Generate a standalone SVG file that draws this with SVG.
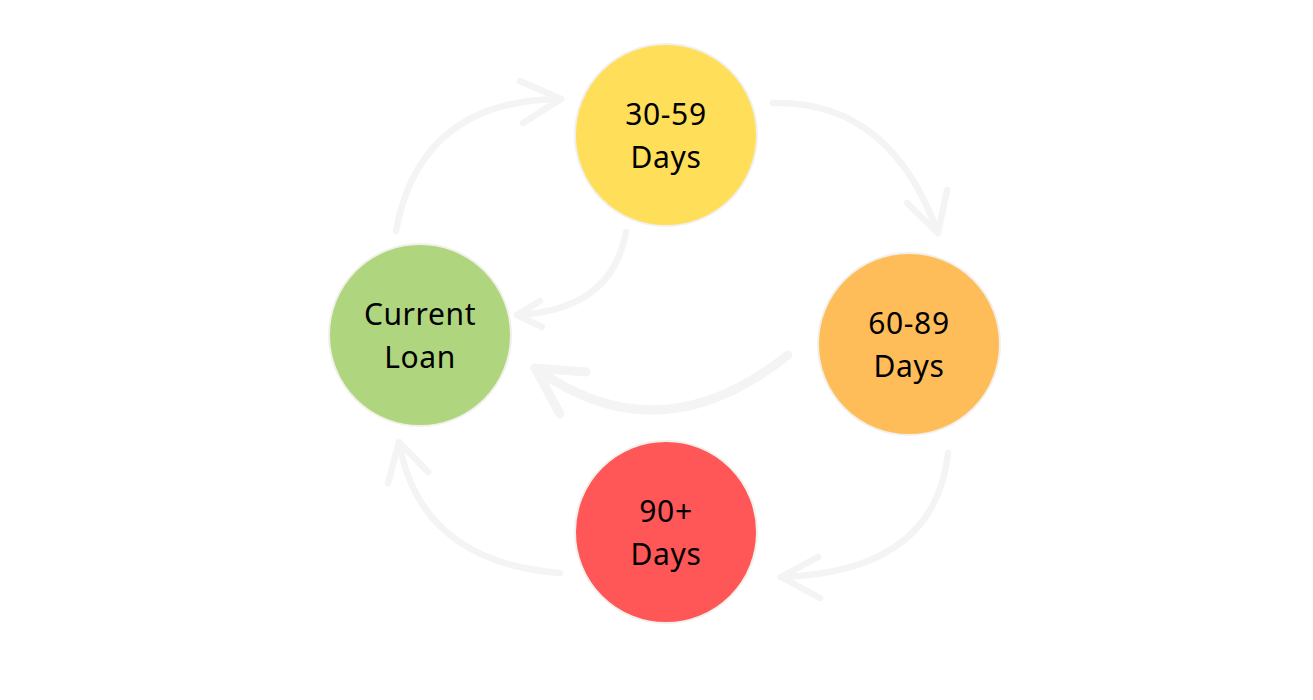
<svg xmlns="http://www.w3.org/2000/svg" width="1313" height="700" viewBox="0 0 1313 700">
<style>
.bg{fill:#ffffff}
.node{stroke:#f1f0ea;stroke-width:2}
.lbl{font-family:"Noto Sans","Open Sans",sans-serif;font-size:30px;fill:#000000;text-anchor:middle;letter-spacing:0.6px}
.arc{fill:none;stroke:#f4f4f4;stroke-width:6.5;stroke-linecap:round;stroke-linejoin:round}
.thick{stroke-width:9}
</style>
<rect class="bg" x="0" y="0" width="1313" height="700"/>
<g id="connectors">
  <g id="c-current-30">
    <path class="arc" d="M396,231 Q420,100 561,99"/>
    <path class="arc" d="M520,81 L561,99 L523,123"/>
  </g>
  <g id="c-30-current">
    <path class="arc" d="M626,232 Q612,310 517,315"/>
    <path class="arc" d="M540,301 L517,315 L542,327"/>
  </g>
  <g id="c-30-60">
    <path class="arc" d="M773,103 Q890,100 938,233"/>
    <path class="arc" d="M907,203 L938,233 L947,190"/>
  </g>
  <g id="c-60-current">
    <path class="arc thick" d="M788,355 Q659,458 535,368"/>
    <path class="arc thick" d="M586,372 L535,368 L560,414"/>
  </g>
  <g id="c-60-90">
    <path class="arc" d="M948,453 Q935,572 781,577"/>
    <path class="arc" d="M818,557 L781,577 L820,598"/>
  </g>
  <g id="c-90-current">
    <path class="arc" d="M560,573 Q420,562 399,442"/>
    <path class="arc" d="M388,483 L399,442 L428,472"/>
  </g>
</g>
<g id="node-30-59">
  <circle class="node" cx="666" cy="135" r="91" fill="#ffde59"/>
  <text class="lbl" x="666" y="125">30-59</text>
  <text class="lbl" x="666" y="168">Days</text>
</g>
<g id="node-current">
  <circle class="node" cx="420" cy="335" r="91" fill="#b0d57f"/>
  <text class="lbl" x="420" y="325">Current</text>
  <text class="lbl" x="420" y="368">Loan</text>
</g>
<g id="node-60-89">
  <circle class="node" cx="909" cy="344" r="91" fill="#ffbd59"/>
  <text class="lbl" x="909" y="334">60-89</text>
  <text class="lbl" x="909" y="377">Days</text>
</g>
<g id="node-90">
  <circle class="node" cx="666" cy="532" r="91" fill="#ff5757"/>
  <text class="lbl" x="666" y="522">90+</text>
  <text class="lbl" x="666" y="565">Days</text>
</g>
</svg>
